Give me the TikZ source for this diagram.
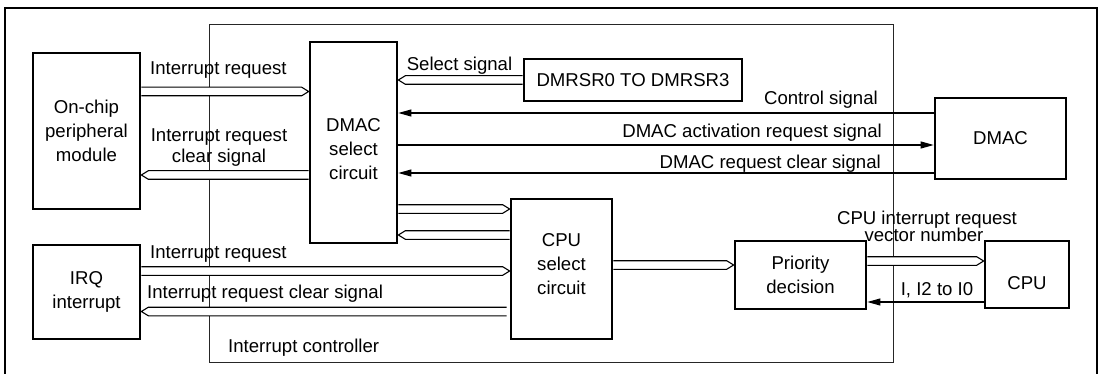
\documentclass[tikz,border=0pt]{standalone}
\usepackage{fontspec}
\setmainfont{Liberation Sans}
\usetikzlibrary{arrows.meta,calc}
\tikzset{
  box/.style={draw, line width=2.7pt, fill=white, inner sep=0pt, align=center,
    font=\fontsize{18.6}{24}\selectfont},
  boxtext/.style={inner sep=0pt, align=center, font=\fontsize{18.6}{24}\selectfont},
  lbl/.style={inner sep=0pt, align=center, font=\fontsize{18.6}{21.5}\selectfont},
  sig/.style={line width=1.1pt, -{Triangle[length=13pt,width=7pt]}},
  hol/.style={line width=1.1pt, fill=white, line join=miter},
  frame/.style={line width=1pt, draw=black!85},
}
\newcommand\hollowarrow[3]{\draw[hol] ([yshift=4.3pt]#1) -- ([xshift=#3,yshift=4.3pt]#2) -- (#2) -- ([xshift=#3,yshift=-4.3pt]#2) -- ([yshift=-4.3pt]#1);}
\begin{document}
\begin{tikzpicture}[x=1pt,y=-1pt]
\useasboundingbox (0,0) rectangle (1102,374);
% outer frame (bottom edge lies below the picture)
\draw[line width=2.5pt] (5,380) -- (5,8) -- (1097,8) -- (1097,380);
% interrupt controller frame
\draw[frame] (209,25) rectangle (893,362);

% boxes
\node[box, minimum width=107pt, minimum height=156pt] (onchip) at (86.5,131) {On-chip\\peripheral\\module};
\node[box, minimum width=107pt, minimum height=94pt] (irq) at (86.5,292) {IRQ\\interrupt};
\node[box, minimum width=87pt, minimum height=201pt] (dmacsel) at (353.5,142.5) {};
\node[boxtext] (dmacselt) at (353.5,149) {DMAC\\select\\circuit};
\node[box, minimum width=218pt, minimum height=42pt] (dmrsr) at (633,80) {DMRSR0 TO DMRSR3};
\node[box, minimum width=131pt, minimum height=81pt] (dmac) at (1000.5,138.5) {DMAC};
\node[box, minimum width=101pt, minimum height=140pt] (cpusel) at (561.5,269) {};
\node[boxtext] (cpuselt) at (561.5,264) {CPU\\select\\circuit};
\node[box, minimum width=131pt, minimum height=68pt] (prio) at (800.5,275) {Priority\\decision};
\node[box, minimum width=84pt, minimum height=67pt] (cpu) at (1027,274.5) {};
\node[boxtext, anchor=base] (cput) at (1027,289.5) {CPU};

% hollow (bus) arrows
\coordinate (t1) at (onchip.east |- 0,91.5);  \coordinate (h1) at (dmacsel.west |- 0,91.5);
\hollowarrow{t1}{h1}{-7pt}
\coordinate (t2) at (dmacsel.west |- 0,175);  \coordinate (h2) at (onchip.east |- 0,175);
\hollowarrow{t2}{h2}{7pt}
\coordinate (t3) at (dmrsr.west |- 0,80);     \coordinate (h3) at (dmacsel.east |- 0,80);
\hollowarrow{t3}{h3}{7pt}
\coordinate (t7) at (dmacsel.east |- 0,209);  \coordinate (h7) at (cpusel.west |- 0,209);
\hollowarrow{t7}{h7}{-7pt}
\coordinate (t8) at (cpusel.west |- 0,235);   \coordinate (h8) at (dmacsel.east |- 0,235);
\hollowarrow{t8}{h8}{7pt}
\coordinate (t9) at (irq.east |- 0,271);      \coordinate (h9) at (cpusel.west |- 0,271);
\hollowarrow{t9}{h9}{-7pt}
\coordinate (t10) at ($(cpusel.west |- 0,311.5)+(-3,0)$); \coordinate (h10) at (irq.east |- 0,311.5);
\hollowarrow{t10}{h10}{7pt}
\coordinate (t11) at (cpusel.east |- 0,265);  \coordinate (h11) at (prio.west |- 0,265);
\hollowarrow{t11}{h11}{-7pt}
\coordinate (t12) at (prio.east |- 0,261);    \coordinate (h12) at (cpu.west |- 0,261);
\hollowarrow{t12}{h12}{-7pt}

% single-line signals
\draw[sig] (dmac.west |- 0,113) -- (dmacsel.east |- 0,113);
\draw[sig] (dmacsel.east |- 0,145) -- (dmac.west |- 0,145);
\draw[sig] (dmac.west |- 0,173) -- (dmacsel.east |- 0,173);
\draw[sig] (cpu.west |- 0,302) -- (prio.east |- 0,302);

% labels
\node[lbl, anchor=base west] (l1) at (150,74.5) {Interrupt request};
\node[lbl] (l2) at (219,147.5) {Interrupt request\\clear signal};
\node[lbl, anchor=base] (l3) at (459.5,70.5) {Select signal};
\node[lbl, anchor=base east] (l4) at (878,104.5) {Control signal};
\node[lbl, anchor=base east] (l5) at (882,138) {DMAC activation request signal};
\node[lbl, anchor=base east] (l6) at (881,168.5) {DMAC request clear signal};
\node[lbl, anchor=base west] (l7) at (150,258.5) {Interrupt request};
\node[lbl, anchor=base west] (l8) at (147,298.5) {Interrupt request clear signal};
\node[lbl, anchor=base west] (l9) at (228,352.5) {Interrupt controller};
\node[lbl, anchor=base] (l10a) at (927,224) {CPU interrupt request};
\node[lbl, anchor=base] (l10b) at (924,241) {vector number};
\node[lbl, anchor=base] (l11) at (937,295.5) {I, I2 to I0};
\end{tikzpicture}
\end{document}
